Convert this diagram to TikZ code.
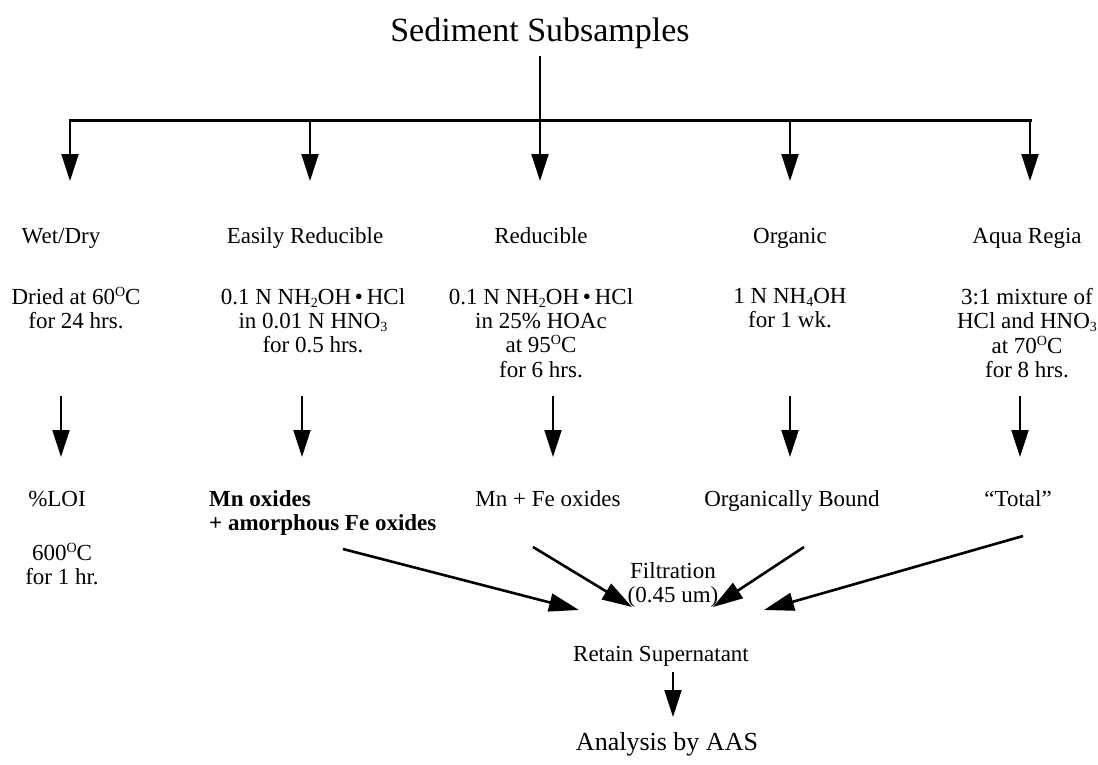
\documentclass[tikz,border=0pt]{standalone}
\usepackage{fontspec}
\setmainfont{Liberation Serif}
\usetikzlibrary{arrows.meta}
\newcommand{\degO}{\smash{\raisebox{0.34em}{\fontsize{14}{14}\selectfont O}}}
\newcommand{\lowsub}[1]{\smash{\raisebox{-0.14em}{\fontsize{14}{14}\selectfont #1}}}
\begin{document}
\begin{tikzpicture}[x=1pt,y=-1pt,
  txt/.style={inner sep=0pt, font=\fontsize{23}{24.3}\selectfont, align=center},
  btxt/.style={inner sep=0pt, font=\fontsize{23}{24}\selectfont\bfseries, align=left},
  vhead/.style={-{Triangle[length=27pt,width=17pt]}, line width=2pt},
  dhead/.style={-{Triangle[length=30pt,width=18pt]}, line width=2.6pt},
  trunk/.style={line width=2pt},
  bar/.style={line width=3pt},
]
\useasboundingbox (0,0) rectangle (1098,764);

% title and tree
\node[txt, font=\fontsize{34}{36}\selectfont, anchor=base] (title) at (540,41) {Sediment Subsamples};
\coordinate (jn) at (540,120);
\coordinate (hl) at (70,120);
\coordinate (hr) at (1030,120);
\draw[trunk, shorten <=8pt] (title.south) -- (jn);
\draw[bar, line cap=rect] (hl) -- (hr);

\foreach \n/\x in {1/70,2/310,3/540,4/790,5/1030}{
  \coordinate (b\n) at (\x,120);
  \coordinate (a\n) at (\x,181);
}
\draw[vhead] (b1) -- (a1);
\draw[vhead] (b2) -- (a2);
\draw[vhead] (b3) -- (a3);
\draw[vhead] (b4) -- (a4);
\draw[vhead] (b5) -- (a5);

% row 1 labels
\node[txt, anchor=base] (wet) at (61,243) {Wet/Dry};
\node[txt, anchor=base] (easy) at (305,243) {Easily Reducible};
\node[txt, anchor=base] (red) at (541,243) {Reducible};
\node[txt, anchor=base] (org) at (790,243) {Organic};
\node[txt, anchor=base] (aqua) at (1027,243) {Aqua Regia};

% row 2 conditions
\node[txt, anchor=north] (wetc) at (76,288) {Dried at 60\degO C\\for 24 hrs.};
\node[txt, anchor=north] (easyc) at (313,288) {0.1 N NH\lowsub{2}OH\,•\,HCl\\in 0.01 N HNO\lowsub{3}\\for 0.5 hrs.};
\node[txt, anchor=north] (redc) at (541,288) {0.1 N NH\lowsub{2}OH\,•\,HCl\\in 25\% HOAc\\at 95\degO C\\for 6 hrs.};
\node[txt, anchor=north] (orgc) at (790,288) {1 N NH\lowsub{4}OH\\for 1 wk.};
\node[txt, anchor=north] (aquac) at (1027,288) {3:1 mixture of\\HCl and HNO\lowsub{3}\\at 70\degO C\\for 8 hrs.};

% second arrows
\foreach \n/\x in {1/61,2/302,3/553,4/790,5/1020}{
  \coordinate (c\n) at (\x,396);
  \coordinate (d\n) at (\x,457);
}
\draw[vhead] (c1) -- (d1);
\draw[vhead] (c2) -- (d2);
\draw[vhead] (c3) -- (d3);
\draw[vhead] (c4) -- (d4);
\draw[vhead] (c5) -- (d5);

% row 3 results
\node[txt, anchor=base] (loi) at (57,506) {\%LOI};
\node[btxt, anchor=north west] (mn) at (209,490) {Mn oxides\\+ amorphous Fe oxides};
\node[txt, anchor=base] (mnfe) at (548,506) {Mn + Fe oxides};
\node[txt, anchor=base] (orgb) at (792,506) {Organically Bound};
\node[txt, anchor=base] (tot) at (1018,506) {“Total”};
\node[txt, anchor=north] (loic) at (62,545) {600\degO C\\for 1 hr.};

\node[txt, anchor=north] (filt) at (673,562) {Filtration\\(0.45 um)};
\node[txt, anchor=base] (ret) at (661,661) {Retain Supernatant};
\node[txt, font=\fontsize{26}{28}\selectfont, anchor=base] (aas) at (667,750) {Analysis by AAS};

% diagonals
\coordinate (f1) at (343,549);
\coordinate (g1) at (579,610);
\coordinate (f2) at (533,547);
\coordinate (g2) at (632,607);
\coordinate (f3) at (804,547);
\coordinate (g3) at (713,607);
\coordinate (f4) at (1023,536);
\coordinate (g4) at (764,610);
\draw[dhead] (f1) -- (g1);
\draw[dhead] (f2) -- (g2);
\draw[dhead] (f3) -- (g3);
\draw[dhead] (f4) -- (g4);

\coordinate (r1) at (673,672);
\coordinate (r2) at (673,717);
\draw[vhead] (r1) -- (r2);
\end{tikzpicture}
\end{document}
